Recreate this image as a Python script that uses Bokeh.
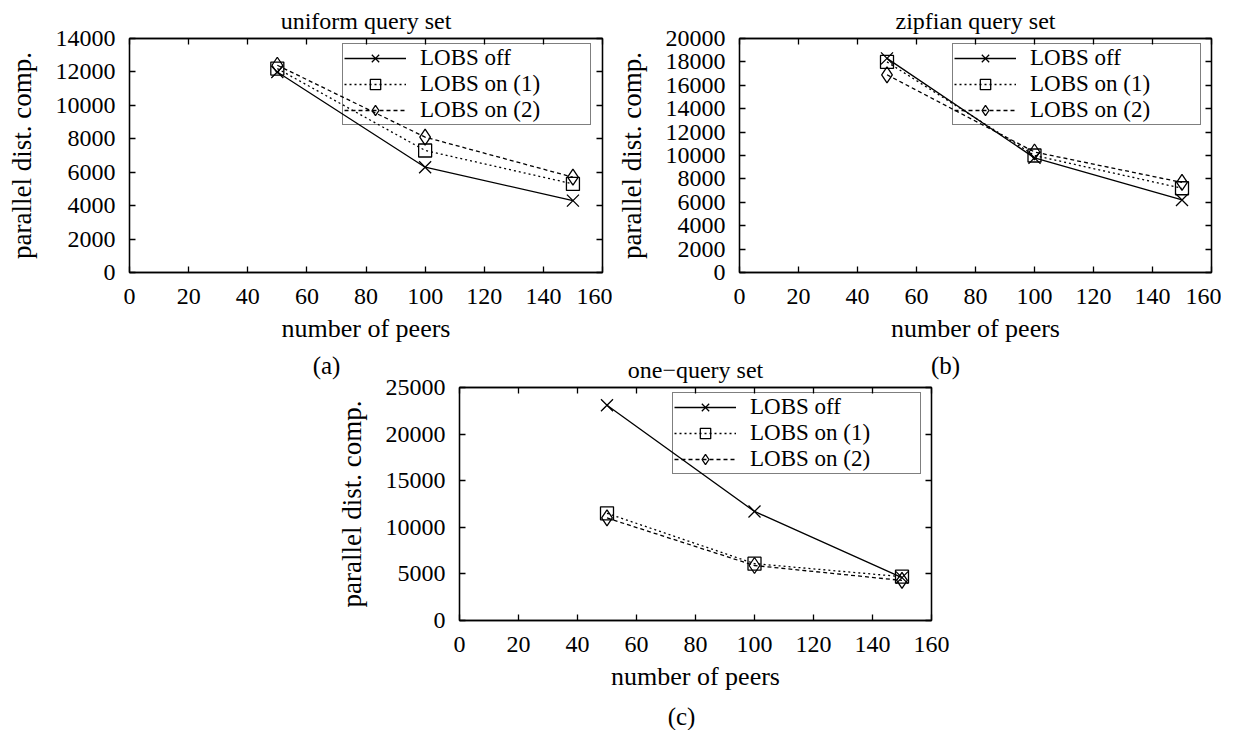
from bokeh.plotting import figure
from bokeh.models import (Range1d, SingleIntervalTicker, LinearAxis, Legend, LegendItem,
                          Label, NumeralTickFormatter, CustomJSTickFormatter)
from bokeh.layouts import column, row
from bokeh.embed import file_html
from bokeh.resources import INLINE

# ---- data ----
peers = [50, 100, 150]
series_labels = ["LOBS off", "LOBS on (1)", "LOBS on (2)"]

uniform_off = [12000, 6300, 4300]
uniform_on1 = [12200, 7300, 5300]
uniform_on2 = [12400, 8100, 5700]

zipf_off = [18300, 9800, 6200]
zipf_on1 = [18000, 10000, 7200]
zipf_on2 = [16900, 10300, 7700]

one_off = [23100, 11700, 4600]
one_on1 = [11500, 6100, 4700]
one_on2 = [11000, 5900, 4300]

titles = ["uniform query set", "zipfian query set", "one\u2212query set"]
sub_captions = ["(a)", "(b)", "(c)"]
x_label = "number of peers"
y_label = "parallel dist. comp."
X_MAX = 160

FONT = "Liberation Serif"
TICK_FS = "24px"
XLABEL_FS = "26px"
YLABEL_FS = "27px"
CAP_FS = "25px"
LEGEND_FS = "23px"


def style_axis(ax, show_labels=True):
    ax.major_tick_in = 6
    ax.major_tick_out = 0
    ax.minor_tick_line_color = None
    ax.axis_line_color = "black"
    ax.axis_line_width = 1.3
    ax.major_tick_line_color = "black"
    ax.major_tick_line_width = 1.3
    ax.major_label_text_font = FONT
    ax.major_label_text_color = "black"
    if show_labels:
        ax.major_label_text_font_size = TICK_FS
    else:
        ax.major_label_text_font_size = "0px"
        ax.major_label_standoff = 0
        ax.formatter = CustomJSTickFormatter(code="return ''")


def make_panel(title, off, on1, on2, ymax, ystep, fw, fh, bl, br, bt, bb):
    p = figure(frame_width=fw, frame_height=fh,
               x_range=Range1d(0, X_MAX), y_range=Range1d(0, ymax),
               output_backend="svg", toolbar_location=None,
               min_border_left=bl, min_border_right=br,
               min_border_top=bt, min_border_bottom=bb,
               title=title)
    p.background_fill_color = "white"
    p.border_fill_color = "white"
    p.outline_line_color = "black"
    p.outline_line_width = 1.3
    p.grid.visible = False

    p.title.text_font = FONT
    p.title.text_font_size = "24px"
    p.title.text_font_style = "normal"
    p.title.align = "center"
    p.title.standoff = 10
    p.title.text_color = "black"

    xa = p.xaxis[0]
    xa.ticker = SingleIntervalTicker(interval=20, num_minor_ticks=0)
    style_axis(xa)
    xa.major_label_standoff = 16
    xa.axis_label = x_label
    xa.axis_label_standoff = 7
    xa.axis_label_text_font_size = XLABEL_FS

    ya = p.yaxis[0]
    ya.ticker = SingleIntervalTicker(interval=ystep, num_minor_ticks=0)
    style_axis(ya)
    ya.formatter = NumeralTickFormatter(format="0")
    ya.major_label_standoff = 14
    ya.axis_label = y_label
    ya.axis_label_standoff = 16
    ya.axis_label_text_font_size = YLABEL_FS

    for ax in (xa, ya):
        ax.axis_label_text_font = FONT
        ax.axis_label_text_font_style = "normal"
        ax.axis_label_text_color = "black"

    top = LinearAxis(ticker=SingleIntervalTicker(interval=20, num_minor_ticks=0))
    style_axis(top, show_labels=False)
    p.add_layout(top, "above")
    right = LinearAxis(ticker=SingleIntervalTicker(interval=ystep, num_minor_ticks=0))
    style_axis(right, show_labels=False)
    p.add_layout(right, "right")

    l0 = p.line(peers, off, line_color="black", line_width=1.3)
    m0 = p.scatter(peers, off, marker="x", size=17, line_color="black", line_width=1.3)
    l1 = p.line(peers, on1, line_color="black", line_width=1.3, line_dash="2 3")
    m1 = p.scatter(peers, on1, marker="square", size=13, line_color="black",
                   fill_color=None, line_width=1.3)
    l2 = p.line(peers, on2, line_color="black", line_width=1.3, line_dash="4 3")
    m2 = p.scatter(peers, on2, marker="diamond", size=16,
                   line_color="black", fill_color=None, line_width=1.3)

    legend = Legend(items=[LegendItem(label=series_labels[0], renderers=[l0, m0]),
                           LegendItem(label=series_labels[1], renderers=[l1, m1]),
                           LegendItem(label=series_labels[2], renderers=[l2, m2])],
                    location=(213, fh - 6 - 81), margin=0, padding=1, spacing=0,
                    glyph_width=62, glyph_height=26, label_height=26,
                    label_width=169, label_standoff=14,
                    border_line_color="black", border_line_width=1.2,
                    background_fill_alpha=0,
                    label_text_font=FONT, label_text_font_size=LEGEND_FS,
                    label_text_color="black")
    p.add_layout(legend)
    return p


FW_A, FH_A = 473, 234
FW_C, FH_C = 472, 233
pa = make_panel(titles[0], uniform_off, uniform_on1, uniform_on2, 14000, 2000,
                FW_A, FH_A, 129, 10, 38, 73)
pb = make_panel(titles[1], zipf_off, zipf_on1, zipf_on2, 20000, 2000,
                472, FH_A, 127, 10, 38, 73)
C_LEFT, C_TOP, C_YMAX = 459, 42, 25000
pc = make_panel(titles[2], one_off, one_on1, one_on2, C_YMAX, 5000,
                FW_C, FH_C, C_LEFT, 306, C_TOP, 110)

# sub-figure captions, placed in pixel offsets from the (c) frame, converted to its scales
# (frame left at 459 px, frame bottom at 620 px of the page)
cap_px = [(326, 365, "left"), (945, 365, "right"), (681, 716, "below")]
ux = X_MAX / FW_C
uy = C_YMAX / FH_C
for txt, (px, py, side) in zip(sub_captions, cap_px):
    lab = Label(x=(px - C_LEFT) * ux, y=(620 - py) * uy, text=txt,
                text_align="center", text_baseline="middle",
                text_font=FONT, text_font_size=CAP_FS, text_color="black")
    pc.add_layout(lab, side)

layout = column(row(pa, pb), pc)
open("out.html", "w").write(file_html(layout, INLINE))
